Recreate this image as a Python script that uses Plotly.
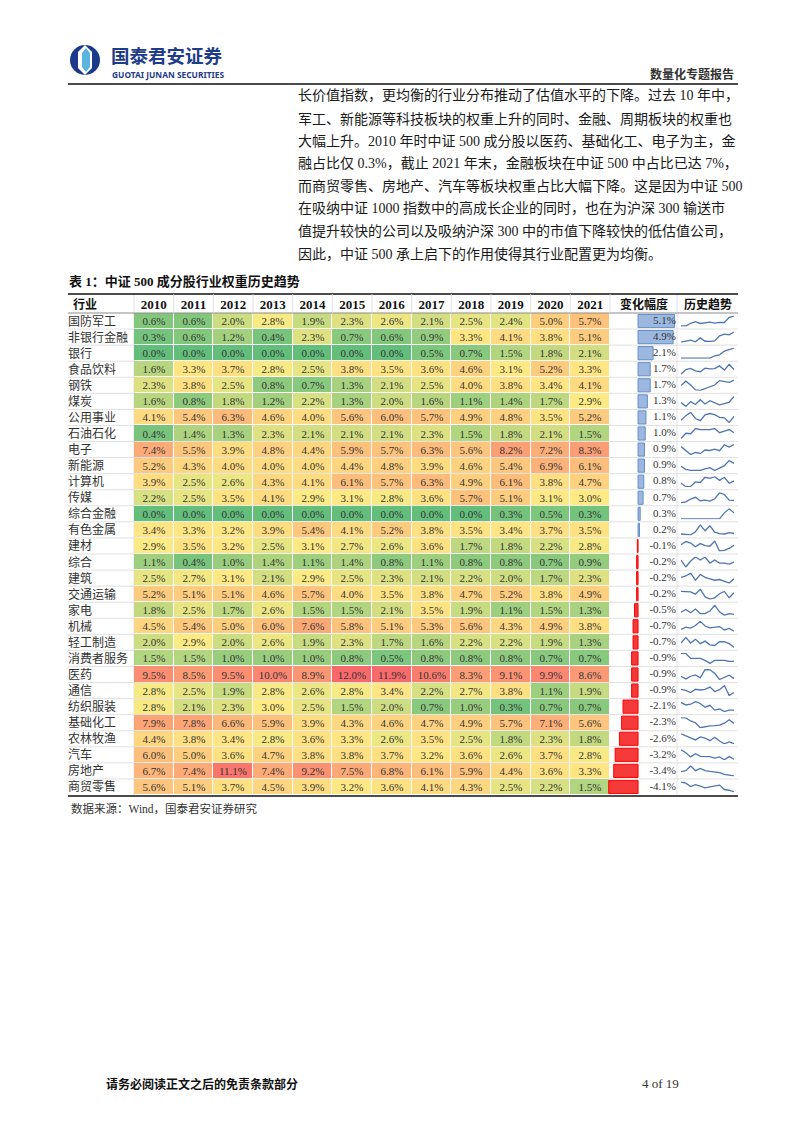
import numpy as np
import plotly.graph_objects as go

W, H = 802, 1133
SERIF = "Liberation Serif, Noto Sans CJK SC, serif"
CJK = "Noto Sans CJK SC, sans-serif"

years = ['2010', '2011', '2012', '2013', '2014', '2015',
         '2016', '2017', '2018', '2019', '2020', '2021']
industries = ['国防军工', '非银行金融', '银行', '食品饮料', '钢铁', '煤炭', '公用事业',
              '石油石化', '电子', '新能源', '计算机', '传媒', '综合金融', '有色金属',
              '建材', '综合', '建筑', '交通运输', '家电', '机械', '轻工制造',
              '消费者服务', '医药', '通信', '纺织服装', '基础化工', '农林牧渔',
              '汽车', '房地产', '商贸零售']

# industry weights (%) per year, same order as industries
w2010 = [0.6, 0.3, 0.0, 1.6, 2.3, 1.6, 4.1, 0.4, 7.4, 5.2, 3.9, 2.2, 0.0, 3.4, 2.9,
         1.1, 2.5, 5.2, 1.8, 4.5, 2.0, 1.5, 9.5, 2.8, 2.8, 7.9, 4.4, 6.0, 6.7, 5.6]
w2011 = [0.6, 0.6, 0.0, 3.3, 3.8, 0.8, 5.4, 1.4, 5.5, 4.3, 2.5, 2.5, 0.0, 3.3, 3.5,
         0.4, 2.7, 5.1, 2.5, 5.4, 2.9, 1.5, 8.5, 2.5, 2.1, 7.8, 3.8, 5.0, 7.4, 5.1]
w2012 = [2.0, 1.2, 0.0, 3.7, 2.5, 1.8, 6.3, 1.3, 3.9, 4.0, 2.6, 3.5, 0.0, 3.2, 3.2,
         1.0, 3.1, 5.1, 1.7, 5.0, 2.0, 1.0, 9.5, 1.9, 2.3, 6.6, 3.4, 3.6, 11.1, 3.7]
w2013 = [2.8, 0.4, 0.0, 2.8, 0.8, 1.2, 4.6, 2.3, 4.8, 4.0, 4.3, 4.1, 0.0, 3.9, 2.5,
         1.4, 2.1, 4.6, 2.6, 6.0, 2.6, 1.0, 10.0, 2.8, 3.0, 5.9, 2.8, 4.7, 7.4, 4.5]
w2014 = [1.9, 2.3, 0.0, 2.5, 0.7, 2.2, 4.0, 2.1, 4.4, 4.0, 4.1, 2.9, 0.0, 5.4, 3.1,
         1.1, 2.9, 5.7, 1.5, 7.6, 1.9, 1.0, 8.9, 2.6, 2.5, 3.9, 3.6, 3.8, 9.2, 3.9]
w2015 = [2.3, 0.7, 0.0, 3.8, 1.3, 1.3, 5.6, 2.1, 5.9, 4.4, 6.1, 3.1, 0.0, 4.1, 2.7,
         1.4, 2.5, 4.0, 1.5, 5.8, 2.3, 0.8, 12.0, 2.8, 1.5, 4.3, 3.3, 3.8, 7.5, 3.2]
w2016 = [2.6, 0.6, 0.0, 3.5, 2.1, 2.0, 6.0, 2.1, 5.7, 4.8, 5.7, 2.8, 0.0, 5.2, 2.6,
         0.8, 2.3, 3.5, 2.1, 5.1, 1.7, 0.5, 11.9, 3.4, 2.0, 4.6, 2.6, 3.7, 6.8, 3.6]
w2017 = [2.1, 0.9, 0.5, 3.6, 2.5, 1.6, 5.7, 2.3, 6.3, 3.9, 6.3, 3.6, 0.0, 3.8, 3.6,
         1.1, 2.1, 3.8, 3.5, 5.3, 1.6, 0.8, 10.6, 2.2, 0.7, 4.7, 3.5, 3.2, 6.1, 4.1]
w2018 = [2.5, 3.3, 0.7, 4.6, 4.0, 1.1, 4.9, 1.5, 5.6, 4.6, 4.9, 5.7, 0.0, 3.5, 1.7,
         0.8, 2.2, 4.7, 1.9, 5.6, 2.2, 0.8, 8.3, 2.7, 1.0, 4.9, 2.5, 3.6, 5.9, 4.3]
w2019 = [2.4, 4.1, 1.5, 3.1, 3.8, 1.4, 4.8, 1.8, 8.2, 5.4, 6.1, 5.1, 0.3, 3.4, 1.8,
         0.8, 2.0, 5.2, 1.1, 4.3, 2.2, 0.8, 9.1, 3.8, 0.3, 5.7, 1.8, 2.6, 4.4, 2.5]
w2020 = [5.0, 3.8, 1.8, 5.2, 3.4, 1.7, 3.5, 2.1, 7.2, 6.9, 3.8, 3.1, 0.5, 3.7, 2.2,
         0.7, 1.7, 3.8, 1.5, 4.9, 1.9, 0.7, 9.9, 1.1, 0.7, 7.1, 2.3, 3.7, 3.6, 2.2]
w2021 = [5.7, 5.1, 2.1, 3.3, 4.1, 2.9, 5.2, 1.5, 8.3, 6.1, 4.7, 3.0, 0.3, 3.5, 2.8,
         0.9, 2.3, 4.9, 1.3, 3.8, 1.3, 0.7, 8.6, 1.9, 0.7, 5.6, 1.8, 2.8, 3.3, 1.5]
change = [5.1, 4.9, 2.1, 1.7, 1.7, 1.3, 1.1, 1.0, 0.9, 0.9, 0.8, 0.7, 0.3, 0.2, -0.1,
          -0.2, -0.2, -0.2, -0.5, -0.7, -0.7, -0.9, -0.9, -0.9, -2.1, -2.3, -2.6,
          -3.2, -3.4, -4.1]

paragraph = [
    "长价值指数，更均衡的行业分布推动了估值水平的下降。过去 10 年中，",
    "军工、新能源等科技板块的权重上升的同时、金融、周期板块的权重也",
    "大幅上升。2010 年时中证 500 成分股以医药、基础化工、电子为主，金",
    "融占比仅 0.3%，截止 2021 年末，金融板块在中证 500 中占比已达 7%，",
    "而商贸零售、房地产、汽车等板块权重占比大幅下降。这是因为中证 500",
    "在吸纳中证 1000 指数中的高成长企业的同时，也在为沪深 300 输送市",
    "值提升较快的公司以及吸纳沪深 300 中的市值下降较快的低估值公司，",
    "因此，中证 500 承上启下的作用使得其行业配置更为均衡。",
]

weights = np.array([w2010, w2011, w2012, w2013, w2014, w2015,
                    w2016, w2017, w2018, w2019, w2020, w2021]).T
n = len(industries)


def fx(px):
    return px / W


def fy(py):
    return 1 - py / H


# table geometry in page pixels
TOP, HEAD_BOT, BOT = 294, 313, 795
LEFT, RIGHT = 68, 738
HEAT_L, HEAT_R = 134, 610
BAR_L, BAR_R = 608, 676
SEP = 677
TREND_L, TREND_R = 681, 734
row_h = (BOT - HEAD_BOT) / n
bar_range = [-4.2, 5.3]
label_axis = f'y{n + 2}'

fig = go.Figure()

# heatmap (Excel style 3-colour scale: min / median / max)
zmax = weights.max()
mid = float(np.median(weights) / zmax)
fig.add_trace(go.Heatmap(
    z=weights, x=years, y=industries,
    colorscale=[[0, '#63BE7B'], [mid, '#FFEB84'], [1, '#F8696B']],
    zmin=0, zmax=zmax, showscale=False, xgap=1, ygap=1,
    texttemplate='%{z:.1f}%',
    textfont=dict(family=SERIF, size=11, color='#333333'),
    hoverinfo='skip'
))

# industry names column (own axis, nudged down a little for CJK glyphs)
fig.add_trace(go.Scatter(
    x=[0] * n, y=industries, mode='text', text=industries,
    textposition='middle right',
    textfont=dict(family=CJK, size=12, color='#333333'),
    xaxis='x2', yaxis=label_axis, hoverinfo='skip', showlegend=False
))

# change data bars
fig.add_trace(go.Bar(
    x=change, y=industries, orientation='h', width=0.82,
    marker=dict(color=['#9DB8E0' if v >= 0 else '#F53A3A' for v in change],
                line=dict(color=['#638EC6' if v >= 0 else '#FF0000' for v in change],
                          width=1)),
    xaxis='x3', yaxis='y', hoverinfo='skip', showlegend=False
))
fig.add_trace(go.Scatter(
    x=[bar_range[1]] * n, y=industries, mode='text',
    text=[f"{v:.1f}%" for v in change], textposition='middle left',
    textfont=dict(family=SERIF, size=11, color='#333333'),
    xaxis='x3', yaxis='y', hoverinfo='skip', showlegend=False
))

# sparklines, one small y axis per row
layout_axes = {}
for i, name in enumerate(industries):
    ax = i + 2
    fig.add_trace(go.Scatter(
        x=years, y=weights[i], mode='lines',
        line=dict(color='#4F75B3', width=1.3),
        xaxis='x4', yaxis=f'y{ax}', hoverinfo='skip', showlegend=False
    ))
    top = HEAD_BOT + i * row_h + 2.5
    bot = HEAD_BOT + (i + 1) * row_h - 2.5
    layout_axes[f'yaxis{ax}'] = dict(domain=[fy(bot), fy(top)], anchor='x4',
                                     visible=False, fixedrange=True)
layout_axes[f'yaxis{n + 2}'] = dict(domain=[fy(BOT + 1.5), fy(HEAD_BOT + 1.5)],
                                    range=[n - 0.5, -0.5], anchor='x2', visible=False)

fig.update_layout(
    width=W, height=H, margin=dict(l=0, r=0, t=0, b=0),
    paper_bgcolor='white', plot_bgcolor='rgba(0,0,0,0)',
    showlegend=False,
    xaxis=dict(domain=[fx(HEAT_L), fx(HEAT_R)], side='top', anchor='y',
               showgrid=False, zeroline=False, ticks='', showline=False,
               tickfont=dict(family=SERIF, size=13, color='#111111', weight='bold')),
    yaxis=dict(domain=[fy(BOT), fy(HEAD_BOT)], range=[n - 0.5, -0.5],
               showticklabels=False, showgrid=False, zeroline=False, ticks=''),
    xaxis2=dict(domain=[fx(LEFT), fx(HEAT_L)], range=[0, 1], anchor=label_axis,
                visible=False),
    xaxis3=dict(domain=[fx(BAR_L), fx(BAR_R)], range=bar_range, anchor='y', visible=False),
    xaxis4=dict(domain=[fx(TREND_L), fx(TREND_R)], anchor='y2', visible=False),
    **layout_axes
)

shapes = []
# logo
shapes.append(dict(type='circle', xref='paper', yref='paper',
                   x0=fx(70), x1=fx(100), y0=fy(75), y1=fy(45),
                   fillcolor='#1B3A8C', line=dict(width=0)))
shapes.append(dict(type='path', xref='paper', yref='paper',
                   path=(f"M {fx(85)},{fy(45)} L {fx(92)},{fy(52)} L {fx(92)},{fy(68)} "
                         f"L {fx(85)},{fy(75)} L {fx(78)},{fy(68)} L {fx(78)},{fy(52)} Z"),
                   fillcolor='white', line=dict(width=0)))
shapes.append(dict(type='path', xref='paper', yref='paper',
                   path=(f"M {fx(86)},{fy(48)} L {fx(90)},{fy(53)} L {fx(90)},{fy(67)} "
                         f"L {fx(86)},{fy(72)} L {fx(82)},{fy(67)} L {fx(82)},{fy(53)} Z"),
                   fillcolor='#5BB4E0', line=dict(width=0)))
# page header rule
shapes.append(dict(type='line', xref='paper', yref='paper', x0=fx(LEFT), x1=fx(RIGHT),
                   y0=fy(84), y1=fy(84), line=dict(color='#4a4a4a', width=2)))
# table borders
for yy, col, wd in [(TOP, '#111111', 1.6), (HEAD_BOT, '#8c8c8c', 1), (BOT + 1, '#111111', 1.6)]:
    shapes.append(dict(type='line', xref='paper', yref='paper', x0=fx(LEFT), x1=fx(RIGHT),
                       y0=fy(yy), y1=fy(yy), line=dict(color=col, width=wd)))
# row separators
for i in range(1, n):
    shapes.append(dict(type='line', xref='paper', yref='y', x0=fx(LEFT), x1=fx(RIGHT),
                       y0=i - 0.5, y1=i - 0.5, line=dict(color='#d9d9d9', width=0.8),
                       layer='below'))
# column separators
for xx in [HEAT_L, SEP]:
    shapes.append(dict(type='line', xref='paper', yref='paper', x0=fx(xx), x1=fx(xx),
                       y0=fy(BOT), y1=fy(TOP), line=dict(color='#d9d9d9', width=0.8),
                       layer='below'))
col_w = (HEAT_R - HEAT_L) / len(years)
for k in range(1, len(years) + 1):
    xx = HEAT_L + k * col_w
    shapes.append(dict(type='line', xref='paper', yref='paper', x0=fx(xx), x1=fx(xx),
                       y0=fy(HEAD_BOT), y1=fy(TOP), line=dict(color='#d9d9d9', width=0.8)))
fig.update_layout(shapes=shapes)

ann = []


def txt(text, x, y, size, color='#1a1a1a', family=CJK, anchor='left', bold=False):
    ann.append(dict(text=text, x=fx(x), y=fy(y), xref='paper', yref='paper',
                    xanchor=anchor, yanchor='middle', showarrow=False,
                    font=dict(family=family, size=size, color=color,
                              weight='bold' if bold else 'normal')))


txt("国泰君安证券", 109, 55, 18.5, color='#1F3C88', bold=True)
txt("GUOTAI JUNAN SECURITIES", 110, 74.5, 8.4, color='#1F3C88',
    family="Noto Sans, sans-serif", bold=True)
txt("数量化专题报告", 736, 73, 12, color='#333333', anchor='right', bold=True)

for k, line in enumerate(paragraph):
    txt(line, 296, 96 + k * 22.5, 14, family=SERIF)

txt("表 1：中证 500 成分股行业权重历史趋势", 67, 281, 13, color='#111111',
    family=SERIF, bold=True)
txt("行业", 71, 303, 12, color='#111111', bold=True)
txt("变化幅度", (HEAT_R + SEP) / 2, 303, 12, color='#111111', anchor='center', bold=True)
txt("历史趋势", (SEP + RIGHT) / 2, 303, 12, color='#111111', anchor='center', bold=True)
txt("数据来源：Wind，国泰君安证券研究", 69, 808, 11.5, color='#333333', family=SERIF)

txt("请务必阅读正文之后的免责条款部分", 104, 1083, 12, color='#111111', bold=True)
txt("4 of 19", 660, 1083, 13, color='#333333', family=SERIF, anchor='center')

fig.update_layout(annotations=ann)

fig.write_html("out.html", config={'displayModeBar': False},
               post_script="document.body.style.margin='0';")
